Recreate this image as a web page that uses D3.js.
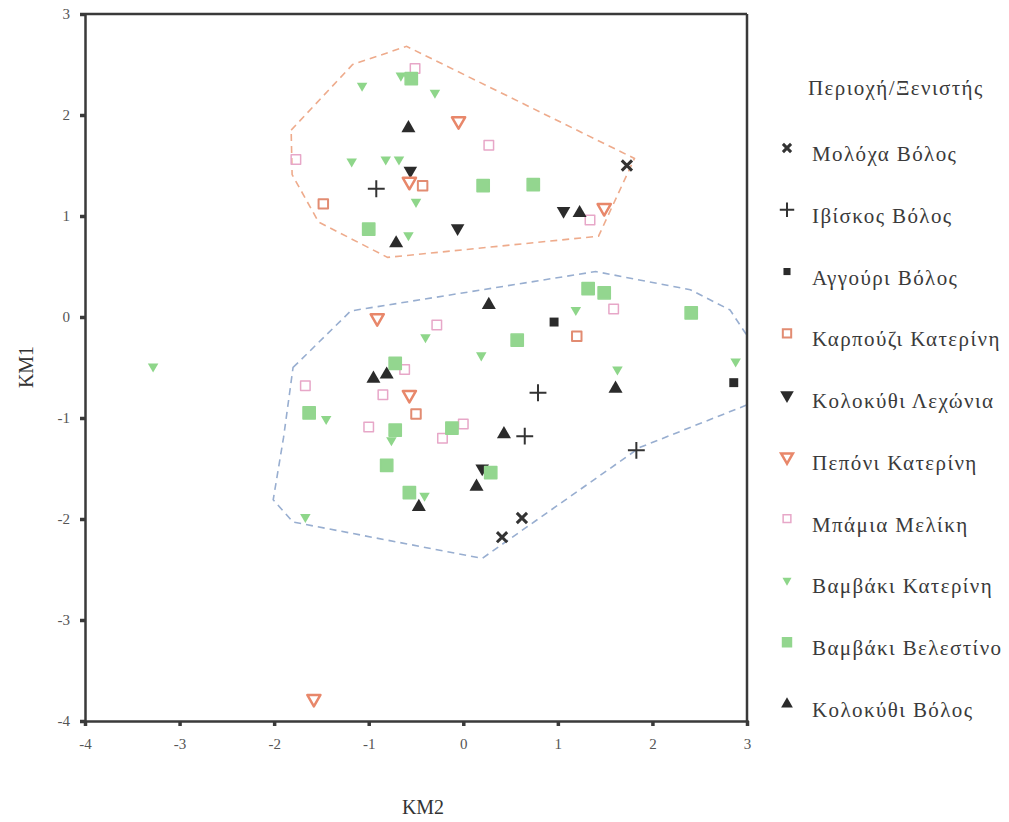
<!DOCTYPE html>
<html>
<head>
<meta charset="utf-8">
<script src="https://cdn.jsdelivr.net/npm/d3@7"></script>
<style>
  body { margin: 0; background: #fff; }
  svg text { font-family: "Liberation Serif", "DejaVu Serif", serif; }
  .legend-text { fill: #3a3a3a; font-size: 21px; letter-spacing: 1.4px; }
  .tick text { font-size: 15px; fill: #555; }
</style>
</head>
<body>
<svg id="chart" width="1009" height="822"></svg>
<script>
// Series names (legend order)
var seriesNames = ["Μολόχα Βόλος", "Ιβίσκος Βόλος", "Αγγούρι Βόλος", "Καρπούζι Κατερίνη",
  "Κολοκύθι Λεχώνια", "Πεπόνι Κατερίνη", "Μπάμια Μελίκη", "Βαμβάκι Κατερίνη",
  "Βαμβάκι Βελεστίνο", "Κολοκύθι Βόλος"];

// [KM2, KM1] per series
var molocha = [[1.73, 1.50], [0.62, -1.99], [0.41, -2.18]];
var ibiskos = [[-0.92, 1.27], [0.79, -0.75], [0.65, -1.18], [1.83, -1.32]];
var angouri = [[0.96, -0.05], [2.86, -0.65]];
var karpouzi = [[-1.48, 1.12], [-0.43, 1.30], [1.20, -0.19], [-0.50, -0.96]];
var kolokythiLechonia = [[-0.56, 1.45], [-0.06, 0.88], [1.06, 1.05], [0.20, -1.50]];
var peponi = [[-0.05, 1.94], [-0.57, 1.34], [1.49, 1.08], [-0.91, -0.01], [-0.57, -0.77], [-1.58, -3.78]];
var bamia = [[-0.51, 2.46], [0.27, 1.70], [1.34, 0.96], [-1.77, 1.56], [-0.28, -0.08], [-0.62, -0.52],
  [-1.67, -0.68], [-0.85, -0.77], [-1.00, -1.09], [-0.22, -1.20], [0.00, -1.06], [1.59, 0.08]];
var bambakiKaterini = [[-1.07, 2.29], [-0.66, 2.39], [-0.58, 2.37], [-1.18, 1.54], [-0.82, 1.56],
  [-0.68, 1.56], [-0.30, 2.22], [-0.50, 1.14], [-0.58, 0.81], [-0.40, -0.20], [0.19, -0.38],
  [-1.45, -1.01], [-0.76, -1.22], [-0.41, -1.77], [-1.67, -1.98], [1.19, 0.07], [1.63, -0.52],
  [2.88, -0.44], [-3.28, -0.49]];
var bambakiVelestino = [[-0.55, 2.36], [0.21, 1.30], [0.74, 1.31], [-1.00, 0.87], [1.32, 0.28],
  [1.49, 0.24], [2.41, 0.04], [0.57, -0.23], [-0.72, -0.46], [-1.63, -0.95], [-0.72, -1.12],
  [-0.81, -1.47], [-0.57, -1.74], [0.29, -1.54], [-0.12, -1.10]];
var kolokythiVolos = [[-0.58, 1.87], [-0.71, 0.73], [1.23, 1.03], [0.27, 0.12], [-0.95, -0.61],
  [-0.81, -0.57], [0.43, -1.16], [1.61, -0.71], [0.14, -1.68], [-0.47, -1.88]];

// Cluster outlines (dashed)
var hullTop = [[-1.82, 1.85], [-1.17, 2.50], [-0.60, 2.68], [1.81, 1.57], [1.43, 0.80],
  [-0.80, 0.59], [-1.53, 0.94], [-1.81, 1.41]];
var hullBottom = [[-1.80, -0.50], [-1.19, 0.06], [1.40, 0.45], [2.40, 0.27], [2.82, 0.07],
  [3.19, -0.45], [3.19, -0.80], [1.87, -1.29], [0.20, -2.39], [-1.80, -2.03], [-2.01, -1.81],
  [-1.90, -1.19]];

var xTicks = [-4, -3, -2, -1, 0, 1, 2, 3];
var yTicks = [-4, -3, -2, -1, 0, 1, 2, 3];

var seriesData = [molocha, ibiskos, angouri, karpouzi, kolokythiLechonia, peponi, bamia,
  bambakiKaterini, bambakiVelestino, kolokythiVolos];

// Marker styles per series
var styles = [
  { type: d3.symbolX, size: 70, fill: "none", stroke: "#333", sw: 3, rot: 0 },
  { type: d3.symbolPlus, size: 95, fill: "none", stroke: "#333", sw: 2, rot: 0 },
  { type: d3.symbolSquare, size: 80, fill: "#2b2b2b", stroke: "none", sw: 0, rot: 0 },
  { type: d3.symbolSquare, size: 90, fill: "none", stroke: "#e28c72", sw: 2, rot: 0 },
  { type: d3.symbolTriangle, size: 80, fill: "#2b2b2b", stroke: "none", sw: 0, rot: 180 },
  { type: d3.symbolTriangle, size: 75, fill: "none", stroke: "#e8876a", sw: 2.5, rot: 180 },
  { type: d3.symbolSquare, size: 90, fill: "none", stroke: "#e7a7c8", sw: 1.5, rot: 0 },
  { type: d3.symbolTriangle, size: 48, fill: "#8ed68a", stroke: "none", sw: 0, rot: 180 },
  { type: d3.symbolSquare, size: 150, fill: "#93d68f", stroke: "#93d68f", sw: 1.5, rot: 0 },
  { type: d3.symbolTriangle, size: 85, fill: "#2b2b2b", stroke: "none", sw: 0, rot: 0 }
];

var svg = d3.select("#chart");
var g = svg.append("g");

var x = d3.scaleLinear().domain([-4, 3]).range([85, 747]);
var y = d3.scaleLinear().domain([-4, 3]).range([721, 14]);

// Clip for hulls
svg.append("clipPath").attr("id", "plotClip")
  .append("rect")
  .attr("x", x(-4)).attr("y", y(3))
  .attr("width", x(3) - x(-4)).attr("height", y(-4) - y(3));

var hullLine = d3.line()
  .x(d => x(d[0]))
  .y(d => y(d[1]))
  .curve(d3.curveLinearClosed);

g.append("path")
  .attr("d", hullLine(hullTop))
  .attr("clip-path", "url(#plotClip)")
  .attr("fill", "none")
  .attr("stroke", "#eeab8c")
  .attr("stroke-width", 1.6)
  .attr("stroke-dasharray", "7,5");

g.append("path")
  .attr("d", hullLine(hullBottom))
  .attr("clip-path", "url(#plotClip)")
  .attr("fill", "none")
  .attr("stroke", "#98aed0")
  .attr("stroke-width", 1.6)
  .attr("stroke-dasharray", "7,5");

// Points
seriesData.forEach(function(data, i) {
  let st = styles[i];
  let sym = d3.symbol().type(st.type).size(st.size);
  g.selectAll(".pt-" + i)
    .data(data)
    .enter().append("path")
    .attr("class", "pt-" + i)
    .attr("d", sym)
    .attr("transform", d => `translate(${x(d[0])},${y(d[1])}) rotate(${st.rot})`)
    .attr("fill", st.fill)
    .attr("stroke", st.stroke)
    .attr("stroke-width", st.sw)
    .attr("stroke-linejoin", "round");
});

// Axes
var fmt = d => (d < 0 ? "-" + Math.abs(d) : String(d));

var xAxis = g.append("g")
  .attr("transform", `translate(0, ${y(-4)})`)
  .call(d3.axisBottom(x).tickValues(xTicks).tickSize(5).tickPadding(12).tickFormat(fmt));

var yAxis = g.append("g")
  .attr("transform", `translate(${x(-4)}, 0)`)
  .call(d3.axisLeft(y).tickValues(yTicks).tickSize(5).tickPadding(10).tickFormat(fmt));

[xAxis, yAxis].forEach(function(ax) {
  ax.attr("font-family", "Liberation Serif, serif").attr("font-size", 15);
  ax.select(".domain").attr("stroke", "#3a3a3a").attr("stroke-width", 2.5);
  ax.selectAll(".tick line").attr("stroke", "#3a3a3a").attr("stroke-width", 3.5);
});

// Top and right frame
g.append("line")
  .attr("x1", x(-4)).attr("x2", x(3)).attr("y1", y(3)).attr("y2", y(3))
  .attr("stroke", "#3a3a3a").attr("stroke-width", 2.5);
g.append("line")
  .attr("x1", x(3)).attr("x2", x(3)).attr("y1", y(3)).attr("y2", y(-4))
  .attr("stroke", "#3a3a3a").attr("stroke-width", 2.5);

// Axis titles
g.append("text")
  .attr("x", 423).attr("y", 814)
  .attr("text-anchor", "middle")
  .attr("fill", "#333").attr("font-size", 20)
  .text("KM2");

g.append("text")
  .attr("transform", "translate(33, 367) rotate(-90)")
  .attr("text-anchor", "middle")
  .attr("fill", "#333").attr("font-size", 20)
  .text("KM1");

// Legend
var legend = g.append("g").attr("class", "legend");

legend.append("text")
  .attr("x", 808).attr("y", 95)
  .attr("class", "legend-text")
  .text("Περιοχή/Ξενιστής");

// baselines of legend rows
var legendY = d3.scalePoint()
  .domain(seriesNames)
  .range([161, 717]);

var legendSizes = [45, 70, 50, 70, 80, 60, 60, 35, 80, 60];

seriesNames.forEach(function(name, i) {
  let st = styles[i];
  let by = legendY(name);
  let sym = d3.symbol().type(st.type).size(legendSizes[i]);
  legend.append("path")
    .attr("d", sym)
    .attr("transform", `translate(787,${by - 13}) rotate(${st.rot})`)
    .attr("fill", st.fill)
    .attr("stroke", st.stroke)
    .attr("stroke-width", st.sw);
  legend.append("text")
    .attr("class", "legend-text")
    .attr("x", 812).attr("y", by)
    .text(name);
});
</script>
</body>
</html>
